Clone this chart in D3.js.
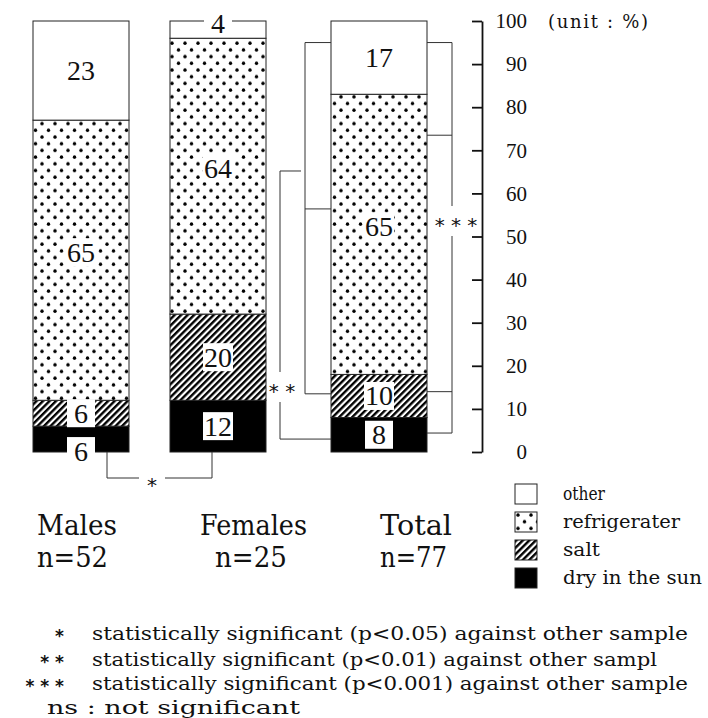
<!DOCTYPE html>
<html>
<head>
<meta charset="utf-8">
<script src="https://cdnjs.cloudflare.com/ajax/libs/d3/7.8.5/d3.min.js"></script>
<style>
  body { margin: 0; background: #fff; }
  svg { display: block; }
  text { font-family: "DejaVu Serif", "Liberation Serif", serif; fill: #111; }
  .num { font-family: "Liberation Serif", "DejaVu Serif", serif; }
</style>
</head>
<body>
<svg width="708" height="718"></svg>
<script>
let width = 708;
let height = 718;

// data
const groups = ["Males", "Females", "Total"];
const sampleSizes = [52, 25, 77];
const methods = ["dry in the sun", "salt", "refrigerater", "other"]; // bottom to top
const dryValues = [6, 12, 8];
const saltValues = [6, 20, 10];
const fridgeValues = [65, 64, 65];
const otherValues = [23, 4, 17];
const yTicks = [0, 10, 20, 30, 40, 50, 60, 70, 80, 90, 100];
const legendOrder = ["other", "refrigerater", "salt", "dry in the sun"];
const footStars = ["*", "* *", "* * *"];
const footNotes = [
    "statistically significant (p<0.05) against other sample",
    "statistically significant (p<0.01) against other sampl",
    "statistically significant (p<0.001) against other sample"
];
const nsNote = "ns : not significant";

let svg = d3.select("svg");

let table = groups.map((g, i) => ({
    group: g,
    "dry in the sun": dryValues[i],
    "salt": saltValues[i],
    "refrigerater": fridgeValues[i],
    "other": otherValues[i]
}));

let stacked = d3.stack().keys(methods)(table);

// scales
let x = d3.scaleOrdinal().domain(groups).range([33, 170, 331]);
let barW = 96;
let y = d3.scaleLinear().domain([0, 100]).range([452, 21]);

// patterns
let defs = svg.append("defs");
let dots = defs.append("pattern")
    .attr("id", "dots")
    .attr("patternUnits", "userSpaceOnUse")
    .attr("width", 13).attr("height", 13.4);
dots.append("rect").attr("width", 13).attr("height", 13.4).attr("fill", "#fff");
dots.append("circle").attr("cx", 3).attr("cy", 3).attr("r", 1.7).attr("fill", "#000");
dots.append("circle").attr("cx", 9.5).attr("cy", 9.7).attr("r", 1.7).attr("fill", "#000");

let hatch = defs.append("pattern")
    .attr("id", "hatch")
    .attr("patternUnits", "userSpaceOnUse")
    .attr("width", 4.6).attr("height", 4.6)
    .attr("patternTransform", "rotate(45)");
hatch.append("rect").attr("width", 4.6).attr("height", 4.6).attr("fill", "#fff");
hatch.append("rect").attr("width", 2.4).attr("height", 4.6).attr("fill", "#000");

const fills = {
    "dry in the sun": "#000",
    "salt": "url(#hatch)",
    "refrigerater": "url(#dots)",
    "other": "#fff"
};

// bars
svg.append("g")
    .selectAll("g")
    .data(stacked)
    .join("g")
    .attr("fill", d => fills[d.key])
    .selectAll("rect")
    .data(d => d)
    .join("rect")
    .attr("x", d => x(d.data.group))
    .attr("y", d => y(d[1]))
    .attr("width", barW)
    .attr("height", d => y(d[0]) - y(d[1]))
    .attr("stroke", "#222")
    .attr("stroke-width", 1);

// value labels with white boxes
function label_y(key, d) {
    let mid = (y(d[0]) + y(d[1])) / 2;
    if (d.data.group == "Females" && key == "other") return y(100) + 2;
    if (d.data.group == "Males" && key == "dry in the sun") return mid + 12;
    if (key == "refrigerater") return mid - 8;
    return mid;
}

let labelG = svg.append("g");
stacked.forEach(s => {
    s.forEach(d => {
        let v = d[1] - d[0];
        let cx = x(d.data.group) + barW / 2;
        let cy = label_y(s.key, d);
        let small = (d.data.group == "Females" && s.key == "other");
        let bw = small ? 28 : Math.max(String(v).length * 13 + 4, 28);
        let bh = small ? 18 : 28;
        labelG.append("rect")
            .attr("x", cx - bw / 2)
            .attr("y", cy - bh / 2)
            .attr("width", bw)
            .attr("height", bh)
            .attr("fill", "#fff");
        labelG.append("text")
            .attr("class", "num")
            .attr("x", cx)
            .attr("y", cy + 9.5)
            .attr("text-anchor", "middle")
            .style("font-size", "28px")
            .text(v);
    });
});

// y axis on the right
let yAxis = svg.append("g")
    .attr("transform", "translate(482,0)")
    .call(d3.axisRight(y).tickValues(yTicks).tickSize(-10).tickSizeOuter(0));
yAxis.select(".domain").attr("stroke", "#111").attr("stroke-width", 1.8);
yAxis.selectAll(".tick line").attr("stroke", "#111").attr("stroke-width", 1.8);
yAxis.selectAll(".tick text")
    .attr("x", 45)
    .attr("text-anchor", "end")
    .attr("fill", "#111")
    .style("font-size", "21px")
    .style("font-family", "'Liberation Serif', serif");

svg.append("text")
    .attr("x", 548).attr("y", 28)
    .attr("textLength", 100)
    .style("font-size", "18px")
    .text("(unit : %)");

// significance brackets
let br = svg.append("g")
    .attr("fill", "none")
    .attr("stroke", "#333")
    .attr("stroke-width", 1);

let mx = x("Males"), fx = x("Females"), tx = x("Total");

// * : Males vs Females
br.append("path").attr("d", `M${mx + 74},${y(0)}V478H${fx + 42}V${y(0)}`);
// ** : Females vs Total
br.append("path").attr("d", `M${fx + 131},${y(65.2)}H${fx + 110}V${y(3)}H${tx}`);
// bracket along left of Total
br.append("path").attr("d", `M${tx},${y(95)}H${tx - 26}V${y(13.5)}H${tx}M${tx - 26},${y(56.4)}H${tx}`);
// *** : right of Total
br.append("path").attr("d", `M${tx + barW},${y(95)}H${tx + barW + 25}V${y(4.4)}H${tx + barW}M${tx + barW},${y(73.5)}H${tx + barW + 25}M${tx + barW},${y(14)}H${tx + barW + 25}`);

function add_star(sx, sy, str, gapW, gapH) {
    svg.append("rect")
        .attr("x", sx - gapW / 2).attr("y", sy - gapH / 2)
        .attr("width", gapW).attr("height", gapH)
        .attr("fill", "#fff");
    svg.append("text")
        .attr("x", sx).attr("y", sy + 11)
        .attr("text-anchor", "middle")
        .style("font-family", "'DejaVu Sans', sans-serif")
        .style("font-size", "20px")
        .text(str);
}
add_star(152, 481, "*", 26, 10);
add_star(282, 387, "* *", 26, 30);
add_star(456, 221, "* * *", 34, 30);

// category labels
const catLeft = [37, 200, 380];
const nLeft = [37, 215, 380];
const catLen = [80, 107, 72];
const nLen = [71, 72, 67];
groups.forEach((g, i) => {
    svg.append("text")
        .attr("x", catLeft[i]).attr("y", 535)
        .attr("textLength", catLen[i])
        .attr("lengthAdjust", "spacingAndGlyphs")
        .style("font-size", "27px")
        .text(g);
    svg.append("text")
        .attr("x", nLeft[i]).attr("y", 567)
        .attr("textLength", nLen[i])
        .attr("lengthAdjust", "spacingAndGlyphs")
        .style("font-size", "27px")
        .text("n=" + sampleSizes[i]);
});

// legend
const legendLen = [42, 117, 37, 139];
let legend = svg.append("g")
    .selectAll("g")
    .data(legendOrder)
    .join("g")
    .attr("transform", (d, i) => `translate(515,${484 + i * 28})`);
legend.append("rect")
    .attr("width", 22).attr("height", 20)
    .attr("fill", d => fills[d])
    .attr("stroke", "#222");
legend.append("text")
    .attr("x", 48).attr("y", 16)
    .attr("textLength", (d, i) => legendLen[i])
    .attr("lengthAdjust", "spacingAndGlyphs")
    .style("font-size", "19px")
    .text(d => d);

// footnotes
const footBase = [640, 666, 690];
const footLen = [596, 565, 596];
footStars.forEach((s, i) => {
    svg.append("text")
        .attr("x", 64).attr("y", footBase[i] + 2)
        .attr("text-anchor", "end")
        .style("font-family", "'DejaVu Sans', sans-serif")
        .style("font-weight", "bold")
        .style("font-size", "17px")
        .text(s);
    svg.append("text")
        .attr("x", 92).attr("y", footBase[i])
        .attr("textLength", footLen[i])
        .attr("lengthAdjust", "spacingAndGlyphs")
        .style("font-size", "19px")
        .text(footNotes[i]);
});
svg.append("text")
    .attr("x", 47).attr("y", 714)
    .attr("textLength", 253)
    .attr("lengthAdjust", "spacingAndGlyphs")
    .style("font-size", "18px")
    .text(nsNote);
</script>
</body>
</html>
